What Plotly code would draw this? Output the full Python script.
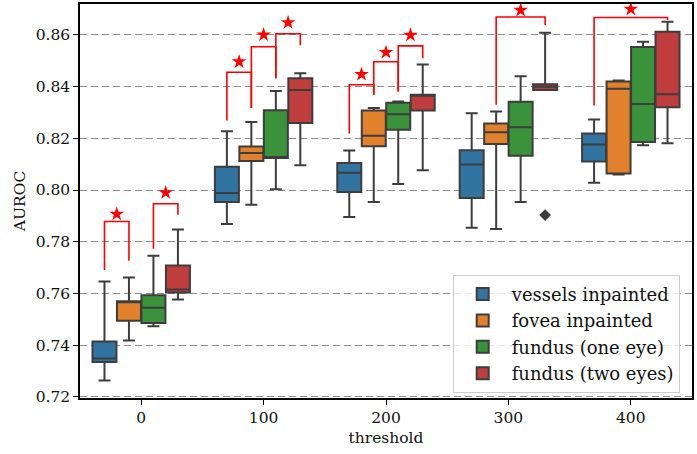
import plotly.graph_objects as go

thresholds = ["0", "100", "200", "300", "400"]
series_names = ["vessels inpainted", "fovea inpainted", "fundus (one eye)", "fundus (two eyes)"]
series_colors = ["#3274a1", "#e1812c", "#3a923a", "#c03d3e"]

# per series: lower whisker, q1, median, q3, upper whisker (one value per threshold)
vessels_lw = [0.7264, 0.7869, 0.7896, 0.7854, 0.8028]
vessels_q1 = [0.7335, 0.7954, 0.7992, 0.7969, 0.8110]
vessels_med = [0.7349, 0.7988, 0.8067, 0.8099, 0.8176]
vessels_q3 = [0.7414, 0.8090, 0.8104, 0.8154, 0.8218]
vessels_uw = [0.7646, 0.8227, 0.8153, 0.8297, 0.8273]

fovea_lw = [0.7418, 0.7943, 0.7954, 0.7849, 0.8060]
fovea_q1 = [0.7495, 0.8112, 0.8169, 0.8178, 0.8064]
fovea_med = [0.7569, 0.8143, 0.8210, 0.8223, 0.8391]
fovea_q3 = [0.7570, 0.8168, 0.8307, 0.8257, 0.8419]
fovea_uw = [0.7662, 0.8263, 0.8317, 0.8303, 0.8423]

one_eye_lw = [0.7473, 0.8003, 0.8023, 0.7954, 0.8173]
one_eye_q1 = [0.7486, 0.8124, 0.8233, 0.8132, 0.8186]
one_eye_med = [0.7545, 0.8124, 0.8293, 0.8243, 0.8332]
one_eye_q3 = [0.7593, 0.8308, 0.8337, 0.8341, 0.8553]
one_eye_uw = [0.7746, 0.8383, 0.8342, 0.8440, 0.8573]

two_eyes_lw = [0.7577, 0.8096, 0.8076, 0.8387, 0.8181]
two_eyes_q1 = [0.7604, 0.8259, 0.8307, 0.8387, 0.8320]
two_eyes_med = [0.7615, 0.8387, 0.8368, 0.8399, 0.8370]
two_eyes_q3 = [0.7708, 0.8432, 0.8368, 0.8409, 0.8612]
two_eyes_uw = [0.7847, 0.8451, 0.8485, 0.8608, 0.8650]

# outliers: (series index, threshold index, value)
outliers = [(3, 3, 0.7903)]

# significance brackets: (threshold index, series a, series b, top, leg a end, leg b end, star)
brackets = [
    (0, 0, 1, 0.7878, 0.7691, 0.7727, 0.7907),
    (0, 2, 3, 0.7947, 0.7773, 0.7904, 0.7990),
    (1, 0, 1, 0.8455, 0.8269, 0.8317, 0.8496),
    (1, 1, 2, 0.8554, 0.8317, 0.8432, 0.8600),
    (1, 2, 3, 0.8604, 0.8432, 0.8560, 0.8647),
    (2, 0, 1, 0.8407, 0.8218, 0.8368, 0.8447),
    (2, 1, 2, 0.8496, 0.8368, 0.8381, 0.8532),
    (2, 2, 3, 0.8557, 0.8381, 0.8509, 0.8599),
    (3, 1, 3, 0.8669, 0.8330, 0.8638, 0.8695),
    (4, 0, 3, 0.8667, 0.8327, 0.8657, 0.8699),
]

y_ticks = [0.72, 0.74, 0.76, 0.78, 0.80, 0.82, 0.84, 0.86]

stats = [
    (vessels_lw, vessels_q1, vessels_med, vessels_q3, vessels_uw),
    (fovea_lw, fovea_q1, fovea_med, fovea_q3, fovea_uw),
    (one_eye_lw, one_eye_q1, one_eye_med, one_eye_q3, one_eye_uw),
    (two_eyes_lw, two_eyes_q1, two_eyes_med, two_eyes_q3, two_eyes_uw),
]

n_series = len(series_names)
group_width = 0.8
box_w = group_width / n_series


def pos(gi, si):
    return gi - group_width / 2 + box_w * (si + 0.5)


FONT = "DejaVu Serif"
LINE = "#3d3d3d"

fig = go.Figure()
for si, (name, col, st) in enumerate(zip(series_names, series_colors, stats)):
    lw, q1, med, q3, uw = st
    fig.add_trace(go.Box(
        name=name,
        x=[pos(gi, si) for gi in range(len(thresholds))],
        lowerfence=lw, q1=q1, median=med, q3=q3, upperfence=uw,
        width=box_w * 0.98,
        whiskerwidth=0.5,
        fillcolor=col,
        line=dict(color=LINE, width=2),
        boxpoints=False,
        legendgroup=name,
        hoverinfo="skip",
    ))

fig.add_trace(go.Scatter(
    x=[pos(gi, si) for si, gi, v in outliers],
    y=[v for si, gi, v in outliers],
    mode="markers",
    marker=dict(symbol="diamond", size=9, color=LINE),
    showlegend=False, hoverinfo="skip",
))

star_x, star_y = [], []
for gi, a, b, top, ea, eb, sy in brackets:
    xa, xb = pos(gi, a), pos(gi, b)
    fig.add_trace(go.Scatter(
        x=[xa, xa, xb, xb], y=[ea, top, top, eb],
        mode="lines", line=dict(color="#ff0000", width=1.6),
        showlegend=False, hoverinfo="skip", cliponaxis=False,
    ))
    star_x.append((xa + xb) / 2)
    star_y.append(sy)

fig.add_trace(go.Scatter(
    x=star_x, y=star_y, mode="markers",
    marker=dict(symbol="star", size=11, color="#ff0000", line=dict(width=0)),
    showlegend=False, hoverinfo="skip", cliponaxis=False,
))

fig.update_layout(
    width=697, height=454,
    margin=dict(l=80, r=5, t=2, b=56),
    paper_bgcolor="white", plot_bgcolor="white",
    font=dict(family=FONT, size=15.5, color="#111111"),
    showlegend=True,
    legend=dict(
        x=0.609, y=0.3126, xanchor="left", yanchor="top",
        bgcolor="rgba(255,255,255,0.8)", bordercolor="#cccccc", borderwidth=1,
        font=dict(family=FONT, size=18), tracegroupgap=0, itemwidth=48,
    ),
    xaxis=dict(
        range=[-0.5, 4.5],
        tickmode="array", tickvals=list(range(len(thresholds))), ticktext=thresholds,
        tickfont=dict(family=FONT, size=15.5),
        showgrid=False, zeroline=False,
        showline=True, linecolor="black", linewidth=1.5, mirror=True,
        ticks="outside", ticklen=5, tickcolor="black",
        title=dict(text="threshold", font=dict(family=FONT, size=15.5), standoff=6),
    ),
    yaxis=dict(
        range=[0.7196, 0.8719],
        tickmode="array", tickvals=y_ticks, ticktext=[f"{v:.2f}" for v in y_ticks],
        tickfont=dict(family=FONT, size=15.5),
        showgrid=True, gridcolor="#8c8c8c", gridwidth=1, griddash="7px,4px",
        zeroline=False,
        showline=True, linecolor="black", linewidth=1.5, mirror=True,
        ticks="outside", ticklen=5, tickcolor="black",
        title=dict(text="AUROC", font=dict(family=FONT, size=15.5), standoff=6),
    ),
)

fig.write_html(
    "out.html",
    config={"displayModeBar": False},
    post_script="document.body.style.margin='0';document.body.style.padding='0';",
)
